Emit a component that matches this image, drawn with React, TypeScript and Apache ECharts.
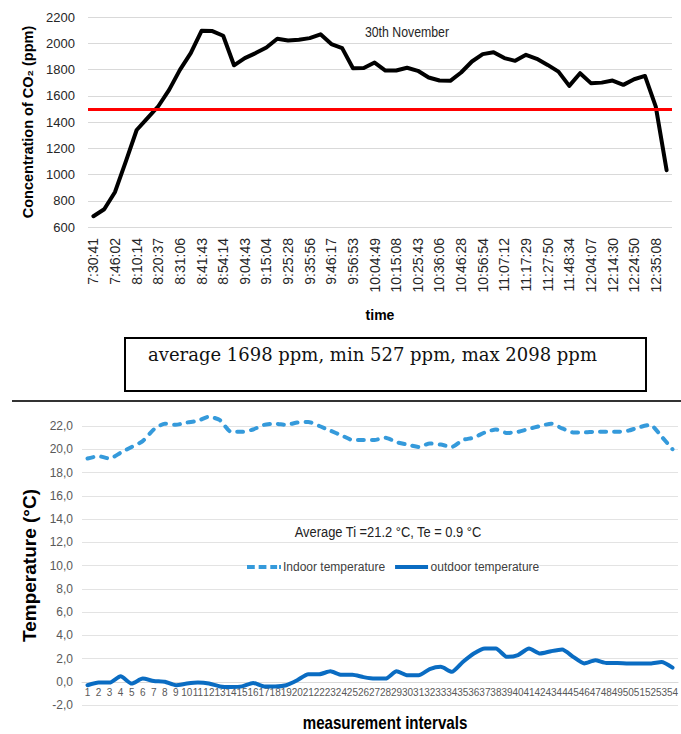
import React, { useEffect, useRef } from 'react';
import * as echarts from 'echarts';

// ---- Top chart: CO2 concentration, 30th November ----
const co2TickLabels = [
  '7:30:41', '7:46:02', '8:10:14', '8:20:37', '8:31:06', '8:41:43', '8:54:14',
  '9:04:43', '9:15:04', '9:25:28', '9:35:56', '9:46:17', '9:56:53', '10:04:49',
  '10:15:08', '10:25:43', '10:36:06', '10:46:28', '10:56:54', '11:07:12', '11:17:29',
  '11:27:50', '11:48:34', '12:04:07', '12:14:30', '12:24:50', '12:35:08',
];
const co2Values = [
  682, 735, 867, 1100, 1339, 1430, 1520, 1645, 1797, 1925,
  2095, 2093, 2057, 1832, 1887, 1925, 1968, 2034, 2021, 2027,
  2039, 2068, 1994, 1963, 1810, 1812, 1853, 1792, 1792, 1813,
  1790, 1739, 1716, 1714, 1777, 1861, 1917, 1932, 1887, 1866,
  1912, 1881, 1835, 1784, 1675, 1772, 1696, 1700, 1716, 1683,
  1726, 1751, 1517, 1033,
];
const co2Limit = 1500;
const co2YTicks = { min: 600, max: 2200, interval: 200 };
const co2Summary = 'average 1698 ppm, min 527 ppm, max 2098 ppm';

// ---- Bottom chart: temperatures per measurement interval ----
const indoorTemp = [
  19.2, 19.4, 19.2, 19.7, 20.2, 20.7, 21.7, 22.2, 22.1, 22.3,
  22.45, 22.8, 22.5, 21.5, 21.5, 21.7, 22.1, 22.2, 22.1, 22.3,
  22.35, 22.0, 21.6, 21.2, 20.8, 20.8, 20.8, 21.0, 20.6, 20.4,
  20.2, 20.5, 20.4, 20.2, 20.8, 21.0, 21.45, 21.7, 21.4, 21.5,
  21.75, 22.0, 22.2, 21.8, 21.45, 21.45, 21.5, 21.5, 21.5, 21.6,
  21.9, 22.1, 21.1, 20.0,
];
const outdoorTemp = [
  -0.3, -0.07, -0.07, 0.47, -0.16, 0.27, 0.07, 0.0, -0.3, -0.16,
  -0.07, -0.15, -0.4, -0.45, -0.4, -0.1, -0.4, -0.4, -0.3, 0.13,
  0.65, 0.65, 0.9, 0.6, 0.6, 0.4, 0.27, 0.27, 0.9, 0.55,
  0.55, 1.08, 1.28, 0.85, 1.7, 2.43, 2.86, 2.86, 2.14, 2.3,
  2.86, 2.43, 2.63, 2.77, 2.14, 1.57, 1.85, 1.62, 1.62, 1.57,
  1.57, 1.57, 1.7, 1.22,
];
const intervals = indoorTemp.map((_, i) => String(i + 1));
const tempYTicks = { min: -2, max: 22, interval: 2 };
const tempNote = 'Average Ti =21.2 °C, Te = 0.9 °C';
const tempSeriesNames = ['Indoor temperature', 'outdoor temperature'];

const SANS = "'Liberation Sans', Arial, sans-serif";
const SERIF = "'DejaVu Serif', 'Liberation Serif', serif";

const DASHED_ICON = 'path://M0,0h8v4h-8z M12,0h8v4h-8z M24,0h7v4h-7z M33,0h2v4h-2z';
const SOLID_ICON = 'path://M0,0h33v4h-33z';

export default function App() {
  const ref = useRef<HTMLDivElement>(null);

  useEffect(() => {
    if (!ref.current) return;
    const chart = echarts.init(ref.current, null, { renderer: 'svg' });
    const co2Index = co2Values.map((_, i) => String(i));

    chart.setOption({
      animation: false,
      backgroundColor: '#ffffff',
      grid: [
        { left: 88, right: 9, top: 17, height: 210 },
        { left: 82, right: -6, top: 426, height: 279 },
      ],
      xAxis: [
        {
          gridIndex: 0,
          type: 'category',
          data: co2Index,
          boundaryGap: true,
          axisLine: { show: false },
          axisTick: { show: false },
          axisLabel: {
            interval: 1,
            rotate: 90,
            margin: 11,
            fontFamily: SANS,
            fontSize: 14,
            color: '#262626',
            formatter: (_v: string, idx: number) => (idx % 2 === 0 ? co2TickLabels[idx / 2] ?? '' : ''),
          },
          name: 'time',
          nameLocation: 'middle',
          nameGap: 81,
          nameTextStyle: { fontFamily: SANS, fontWeight: 'bold', fontSize: 14, color: '#000' },
        },
        {
          gridIndex: 1,
          type: 'category',
          data: intervals,
          boundaryGap: true,
          axisLine: { show: true, onZero: true, lineStyle: { color: '#d9d9d9', width: 1 } },
          axisTick: { show: false },
          axisLabel: { interval: 0, margin: -18, fontFamily: SANS, fontSize: 10, color: '#595959' },
        },
      ],
      yAxis: [
        {
          gridIndex: 0,
          type: 'value',
          min: co2YTicks.min,
          max: co2YTicks.max,
          interval: co2YTicks.interval,
          axisLine: { show: false },
          axisTick: { show: false },
          axisLabel: {
            margin: 13,
            fontFamily: SANS,
            fontSize: 13,
            color: '#262626',
            formatter: (v: number) => String(v),
          },
          splitLine: { lineStyle: { color: '#d9d9d9', width: 1 } },
          name: 'Concentration of CO₂ (ppm)',
          nameLocation: 'middle',
          nameGap: 42,
          nameTextStyle: { fontFamily: SANS, fontWeight: 'bold', fontSize: 14.5, color: '#000' },
        },
        {
          gridIndex: 1,
          type: 'value',
          min: tempYTicks.min,
          max: tempYTicks.max,
          interval: tempYTicks.interval,
          axisLine: { show: false },
          axisTick: { show: false },
          axisLabel: {
            margin: 9,
            fontFamily: SANS,
            fontSize: 12,
            color: '#595959',
            formatter: (v: number) => v.toFixed(1).replace('.', ','),
          },
          splitLine: { lineStyle: { color: '#e3e3e3', width: 1 } },
          name: 'Temperature (°C)',
          nameLocation: 'middle',
          nameGap: 30,
          nameTextStyle: { fontFamily: SANS, fontWeight: 'bold', fontSize: 19, color: '#000' },
        },
      ],
      legend: {
        data: [
          { name: tempSeriesNames[0], icon: DASHED_ICON },
          { name: tempSeriesNames[1], icon: SOLID_ICON },
        ],
        left: 247,
        top: 561,
        itemWidth: 34,
        itemHeight: 4,
        itemGap: 10,
        padding: [0, 0],
        backgroundColor: '#ffffff',
        textStyle: { fontFamily: SANS, fontSize: 12, color: '#404040', padding: [0, 0, 0, -3] },
      },
      series: [
        {
          name: 'CO2',
          type: 'line',
          xAxisIndex: 0,
          yAxisIndex: 0,
          data: co2Values,
          symbol: 'none',
          lineStyle: { color: '#000000', width: 4, join: 'round', cap: 'round' },
          itemStyle: { color: '#000000' },
          markLine: {
            silent: true,
            symbol: 'none',
            label: { show: false },
            lineStyle: { color: '#ff0000', width: 3, type: 'solid' },
            data: [{ yAxis: co2Limit }],
          },
        },
        {
          name: tempSeriesNames[0],
          type: 'line',
          xAxisIndex: 1,
          yAxisIndex: 1,
          data: indoorTemp,
          symbol: 'none',
          clip: false,
          smooth: 0.2,
          lineStyle: { color: '#359adb', width: 4, type: [6, 8], cap: 'round', join: 'round' },
          itemStyle: { color: '#359adb' },
        },
        {
          name: tempSeriesNames[1],
          type: 'line',
          xAxisIndex: 1,
          yAxisIndex: 1,
          data: outdoorTemp,
          symbol: 'none',
          clip: false,
          smooth: 0.2,
          lineStyle: { color: '#0a6cc2', width: 4, cap: 'round', join: 'round' },
          itemStyle: { color: '#0a6cc2' },
        },
      ],
      graphic: [
        {
          type: 'text',
          x: 407,
          y: 32,
          scaleX: 0.88,
          style: {
            text: '30th November',
            fontFamily: SANS,
            fontSize: 14,
            fill: '#262626',
            textAlign: 'center',
            textVerticalAlign: 'middle',
          },
        },
        {
          type: 'rect',
          shape: { x: 125, y: 338, width: 521, height: 53 },
          style: { fill: 'none', stroke: '#000', lineWidth: 2 },
        },
        {
          type: 'text',
          x: 148,
          y: 354,
          style: {
            text: co2Summary,
            fontFamily: SERIF,
            fontSize: 18,
            fill: '#111',
            textAlign: 'left',
            textVerticalAlign: 'middle',
          },
        },
        {
          type: 'line',
          shape: { x1: 12, y1: 401, x2: 681, y2: 401 },
          style: { stroke: '#333', lineWidth: 2 },
        },
        {
          type: 'text',
          x: 388,
          y: 532,
          scaleX: 0.92,
          style: {
            text: tempNote,
            fontFamily: SANS,
            fontSize: 14,
            fill: '#222',
            textAlign: 'center',
            textVerticalAlign: 'middle',
          },
        },
        {
          type: 'text',
          x: 385,
          y: 723,
          scaleX: 0.84,
          style: {
            text: 'measurement intervals',
            fontFamily: SANS,
            fontWeight: 'bold',
            fontSize: 18,
            fill: '#000',
            textAlign: 'center',
            textVerticalAlign: 'middle',
          },
        },
      ],
    });

    return () => chart.dispose();
  }, []);

  return (
    <div
      ref={ref}
      style={{ position: 'absolute', left: 0, top: 0, width: 681, height: 734, background: '#fff' }}
    />
  );
}
